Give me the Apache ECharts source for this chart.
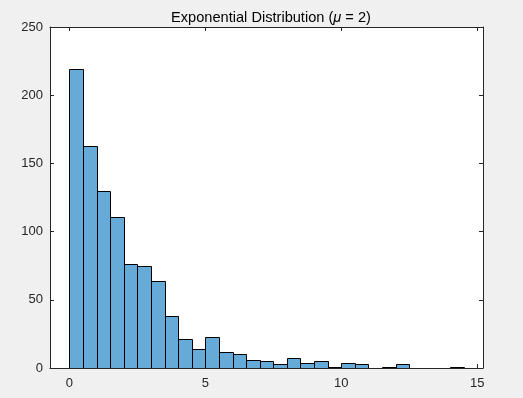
<!DOCTYPE html>
<html>
<head>
<meta charset="utf-8">
<script src="https://cdn.jsdelivr.net/npm/echarts@6/dist/echarts.min.js"></script>
<style>
  html, body { margin: 0; padding: 0; background: #f0f0f0; }
  #chart { width: 523px; height: 398px; }
</style>
</head>
<body>
<div id="chart"></div>
<script>
// histogram bins (width 0.5) and counts
var binStarts = [0, 0.5, 1, 1.5, 2, 2.5, 3, 3.5, 4, 4.5, 5, 5.5, 6, 6.5, 7, 7.5,
  8, 8.5, 9, 9.5, 10, 10.5, 11, 11.5, 12, 12.5, 13, 13.5, 14]
var binEnds = [0.5, 1, 1.5, 2, 2.5, 3, 3.5, 4, 4.5, 5, 5.5, 6, 6.5, 7, 7.5, 8,
  8.5, 9, 9.5, 10, 10.5, 11, 11.5, 12, 12.5, 13, 13.5, 14, 14.5]
var counts = [219, 163, 130, 111, 76, 75, 64, 38, 21, 14, 23, 12, 10, 6, 5, 3,
  7, 4, 5, 1, 4, 3, 0, 1, 3, 0, 0, 0, 1]

var xTicks = [0, 5, 10, 15]
var xMin = -0.71
var xMax = 15.21

var chartDom = document.getElementById("chart")
var chart = echarts.init(chartDom, null, { renderer: "canvas" })

var axisColor = "#262626"
var font = "Liberation Sans, Arial, sans-serif"

var histData = []
for (var i = 0; i < counts.length; i++) {
  histData.push([binStarts[i], binEnds[i], counts[i]])
}

function renderBin(params, api) {
  var p0 = api.coord([api.value(0), 0])
  var p1 = api.coord([api.value(1), api.value(2)])
  var x = Math.round(p0[0]) + 0.5
  var w = Math.round(p1[0]) - Math.round(p0[0])
  var yTop = Math.round(p1[1]) + 0.5
  var h = Math.round(p0[1]) - Math.round(p1[1])
  if (api.value(2) === 0) return null
  return {
    type: "rect",
    shape: { x: x, y: yTop, width: w, height: h },
    style: { fill: "rgb(102,170,215)", stroke: "#000", lineWidth: 1 },
  }
}

function xAxisOpt(pos, showLabel) {
  return {
    type: "value",
    position: pos,
    min: xMin,
    max: xMax,
    axisLine: { show: true, onZero: false, lineStyle: { color: axisColor, width: 1 } },
    axisTick: { show: true, inside: true, length: 4, customValues: xTicks, lineStyle: { color: axisColor } },
    axisLabel: {
      show: showLabel,
      customValues: xTicks,
      color: axisColor,
      fontFamily: font,
      fontSize: 13,
      margin: 9,
    },
    splitLine: { show: false },
  }
}

function yAxisOpt(pos, showLabel) {
  return {
    type: "value",
    position: pos,
    min: 0,
    max: 250,
    interval: 50,
    axisLine: { show: true, onZero: false, lineStyle: { color: axisColor, width: 1 } },
    axisTick: { show: true, inside: true, length: 4, lineStyle: { color: axisColor } },
    axisLabel: {
      show: showLabel,
      color: axisColor,
      fontFamily: font,
      fontSize: 13,
      margin: 7,
    },
    splitLine: { show: false },
  }
}

var option = {
  backgroundColor: "#f0f0f0",
  animation: false,
  title: {
    text: "Exponential Distribution ({i|μ} = 2)",
    left: 266,
    textAlign: "center",
    top: 5,
    textStyle: {
      color: "#000",
      fontFamily: font,
      fontSize: 14.6,
      fontWeight: "normal",
      rich: {
        i: { fontStyle: "italic", fontFamily: font, fontSize: 14.6, color: "#000" },
      },
    },
  },
  grid: {
    left: 50,
    right: 40,
    top: 27,
    bottom: 30,
    show: true,
    backgroundColor: "#fff",
    borderWidth: 0,
  },
  xAxis: [xAxisOpt("bottom", true), xAxisOpt("top", false)],
  yAxis: [yAxisOpt("left", true), yAxisOpt("right", false)],
  series: [
    {
      type: "custom",
      renderItem: renderBin,
      encode: { x: [0, 1], y: 2 },
      data: histData,
      clip: true,
    },
  ],
}

chart.setOption(option)
</script>
</body>
</html>
